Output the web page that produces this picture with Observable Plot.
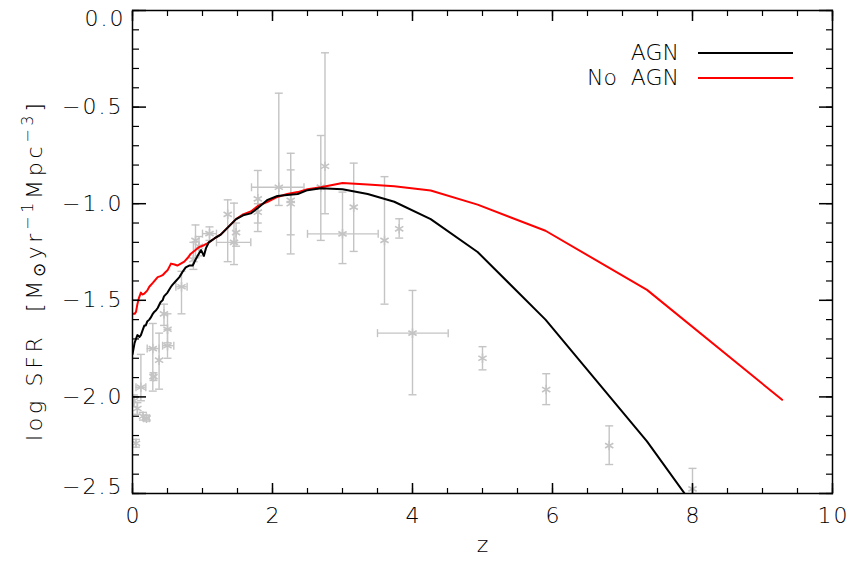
<!DOCTYPE html>
<html><head><meta charset="utf-8">
<script src="https://cdn.jsdelivr.net/npm/d3@7"></script>
<script src="https://cdn.jsdelivr.net/npm/@observablehq/plot@0.6"></script>
<style>
body{margin:0;background:#fff}
#chart{width:851px;height:569px}
</style>
</head><body><div id="chart"></div>
<script>
// ---- Model curves ----
const agnZ   = [0.0,0.03,0.05,0.07,0.10,0.12,0.14,0.17,0.19,0.21,0.24,0.26,0.29,0.31,0.34,0.36,0.40,0.43,0.45,0.50,0.55,0.57,0.62,0.67,0.72,0.76,0.81,0.86,0.90,0.93,0.98,1.02,1.05,1.09,1.17,1.26,1.37,1.48,1.58,1.69,1.80,1.93,2.07,2.21,2.36,2.50,2.69,3.00,3.36,3.74,4.26,4.93,5.90,7.35,9.28];
const agnSFR = [-1.78,-1.72,-1.70,-1.68,-1.69,-1.68,-1.66,-1.63,-1.63,-1.61,-1.60,-1.59,-1.57,-1.56,-1.55,-1.54,-1.51,-1.50,-1.48,-1.46,-1.43,-1.42,-1.40,-1.38,-1.35,-1.33,-1.32,-1.32,-1.29,-1.27,-1.24,-1.27,-1.23,-1.20,-1.18,-1.16,-1.12,-1.08,-1.06,-1.05,-1.02,-0.98,-0.96,-0.955,-0.95,-0.93,-0.92,-0.925,-0.95,-0.99,-1.08,-1.25,-1.60,-2.23,-3.20];
const noAgnZ   = [0.0,0.03,0.05,0.07,0.09,0.12,0.14,0.17,0.21,0.24,0.29,0.36,0.40,0.43,0.47,0.50,0.55,0.60,0.64,0.69,0.74,0.79,0.83,0.90,0.95,1.02,1.07,1.17,1.26,1.37,1.48,1.58,1.69,1.80,1.93,2.07,2.21,2.36,2.50,2.69,3.00,3.36,3.74,4.26,4.93,5.90,7.35,9.28];
const noAgnSFR = [-1.57,-1.57,-1.56,-1.52,-1.49,-1.46,-1.47,-1.465,-1.45,-1.43,-1.41,-1.38,-1.375,-1.37,-1.355,-1.345,-1.31,-1.315,-1.32,-1.31,-1.30,-1.28,-1.26,-1.24,-1.225,-1.215,-1.205,-1.18,-1.16,-1.12,-1.08,-1.055,-1.04,-1.01,-0.99,-0.965,-0.95,-0.94,-0.925,-0.915,-0.893,-0.90,-0.91,-0.932,-1.005,-1.14,-1.446,-2.015];

// ---- Observational compilation (grey asterisks) ----
const obsZ     = [0.05,0.02,0.07,0.15,0.20,0.12,0.30,0.29,0.38,0.45,0.50,0.50,0.70,0.87,0.90,0.95,1.10,1.36,1.45,1.48,1.79,1.79,2.09,2.26,2.26,2.69,2.75,3.00,3.16,3.60,3.81,4.00,5.00,5.91,6.81,8.00];
const obsSFR   = [-2.24,-2.02,-2.06,-2.10,-2.11,-1.95,-1.895,-1.75,-1.81,-1.57,-1.65,-1.735,-1.43,-1.29,-1.19,-1.22,-1.155,-1.055,-1.20,-1.15,-0.975,-1.044,-0.915,-0.983,-1.00,-0.914,-0.806,-1.156,-1.018,-1.19,-1.13,-1.67,-1.80,-1.962,-2.252,-2.476];
const obsSFRlo = [-2.26,-2.05,-2.09,-2.12,-2.125,-2.02,-1.915,-1.97,-1.96,-1.63,-1.72,-1.80,-1.57,-1.34,-1.28,-1.27,-1.19,-1.30,-1.315,-1.22,-1.144,-1.10,-1.009,-1.161,-1.26,-1.19,-1.052,-1.31,-1.247,-1.52,-1.178,-1.989,-1.86,-2.04,-2.35,-2.57];
const obsSFRhi = [-2.22,-1.99,-2.03,-2.08,-2.095,-1.78,-1.875,-1.62,-1.67,-1.52,-1.57,-1.65,-1.35,-1.20,-1.11,-1.17,-1.12,-0.98,-0.997,-1.10,-0.828,-1.00,-0.428,-0.825,-0.739,-0.647,-0.219,-0.94,-0.79,-0.86,-1.078,-1.449,-1.74,-1.88,-2.15,-2.37];
const obsZlo   = [0.05,0.02,0.07,0.15,0.16,0.05,0.27,0.21,0.38,0.45,0.50,0.43,0.62,0.87,0.90,0.95,1.00,1.36,1.20,1.48,1.79,1.79,1.70,2.26,2.26,2.69,2.75,2.50,3.16,3.60,3.81,3.50,5.00,5.91,6.81,8.00];
const obsZhi   = [0.05,0.02,0.07,0.15,0.24,0.19,0.33,0.38,0.38,0.45,0.50,0.59,0.78,0.87,0.90,0.95,1.20,1.36,1.69,1.48,1.79,1.79,2.45,2.26,2.26,2.69,2.75,3.51,3.16,3.60,3.81,4.51,5.00,5.91,6.81,8.00];

// ---- Axes / legend text ----
const xTicks = [0,2,4,6,8,10];
const yTicks = [0,-0.5,-1,-1.5,-2,-2.5];
const legendLabels = ["AGN","No  AGN"];
const legendColors = ["#000000","#ff0000"];
const xTitle = "z";

const agn = agnZ.map((z,i)=>({z, v: agnSFR[i]}));
const noAgn = noAgnZ.map((z,i)=>({z, v: noAgnSFR[i]}));
const obs = obsZ.map((z,i)=>({z, v: obsSFR[i], lo: obsSFRlo[i], hi: obsSFRhi[i], zlo: obsZlo[i], zhi: obsZhi[i]}));
const vbars = obs.filter(d=>d.lo!==d.hi);
const hbars = obs.filter(d=>d.zlo!==d.zhi);

const grey = "#c4c4c4";
const hcap = {draw(ctx,size){const r=Math.sqrt(size/Math.PI); ctx.moveTo(-r,0); ctx.lineTo(r,0);}};
const vcap = {draw(ctx,size){const r=Math.sqrt(size/Math.PI); ctx.moveTo(0,-r); ctx.lineTo(0,r);}};
const FONT = "DejaVu Sans";
const WEIGHT = 200;
const xMinor = d3.range(0, 10.001, 0.5);
const yMinor = d3.range(-25, 1, 1).map(d=>d/10);

const svgEl = Plot.plot({
  width: 851, height: 569,
  marginLeft: 132, marginRight: 19, marginTop: 10, marginBottom: 76,
  style: {fontFamily: FONT, fontWeight: WEIGHT, background: "white", color: "black"},
  x: {domain: [0,10], label: null},
  y: {domain: [-2.5,0], label: null},
  marks: [
    // error bars
    Plot.ruleX(vbars, {x: "z", y1: "lo", y2: "hi", stroke: grey, strokeWidth: 1.4, clip: true}),
    Plot.ruleY(hbars, {y: "v", x1: "zlo", x2: "zhi", stroke: grey, strokeWidth: 1.4, clip: true}),
    Plot.dot(vbars, {x: "z", y: "lo", symbol: hcap, r: 4, stroke: grey, strokeWidth: 1.4, fill: "none", clip: true}),
    Plot.dot(vbars, {x: "z", y: "hi", symbol: hcap, r: 4, stroke: grey, strokeWidth: 1.4, fill: "none", clip: true}),
    Plot.dot(hbars, {x: "zlo", y: "v", symbol: vcap, r: 4, stroke: grey, strokeWidth: 1.4, fill: "none", clip: true}),
    Plot.dot(hbars, {x: "zhi", y: "v", symbol: vcap, r: 4, stroke: grey, strokeWidth: 1.4, fill: "none", clip: true}),
    Plot.dot(obs, {x: "z", y: "v", symbol: "asterisk", r: 4.5, stroke: grey, strokeWidth: 1.6, clip: true}),
    // model curves
    Plot.line(noAgn, {x: "z", y: "v", stroke: legendColors[1], strokeWidth: 2, clip: true}),
    Plot.line(agn, {x: "z", y: "v", stroke: legendColors[0], strokeWidth: 2, clip: true}),
    // frame and inward ticks
    Plot.frame({stroke: "black", strokeWidth: 1.5}),
    Plot.axisX({anchor: "bottom", ticks: xTicks, tickSize: -10, fill: "none", label: null, strokeWidth: 1.5}),
    Plot.axisX({anchor: "bottom", ticks: xMinor, tickSize: -5, fill: "none", label: null, strokeWidth: 1.2}),
    Plot.axisX({anchor: "top", ticks: xTicks, tickSize: -10, fill: "none", label: null, strokeWidth: 1.5}),
    Plot.axisX({anchor: "top", ticks: xMinor, tickSize: -5, fill: "none", label: null, strokeWidth: 1.2}),
    Plot.axisY({anchor: "left", ticks: yTicks, tickSize: -14, fill: "none", label: null, strokeWidth: 1.5}),
    Plot.axisY({anchor: "left", ticks: yMinor, tickSize: -7, fill: "none", label: null, strokeWidth: 1.2}),
    Plot.axisY({anchor: "right", ticks: yTicks, tickSize: -14, fill: "none", label: null, strokeWidth: 1.5}),
    Plot.axisY({anchor: "right", ticks: yMinor, tickSize: -7, fill: "none", label: null, strokeWidth: 1.2}),
    // tick labels
    Plot.axisX({anchor: "bottom", ticks: xTicks, tickSize: 0, tickPadding: 14, fontSize: 22, dx: 1, label: null, fill: "black", tickFormat: d => String(d)}),
    Plot.axisY({anchor: "left", ticks: yTicks.slice(1,5), tickSize: 0, tickPadding: 9, fontSize: 22, label: null, fill: "black", tickFormat: d3.format(".1f")}),
    Plot.axisY({anchor: "left", ticks: [yTicks[0]], tickSize: 0, tickPadding: 7, fontSize: 22, label: null, fill: "black", dy: 8, tickFormat: d3.format(".1f")}),
    Plot.axisY({anchor: "left", ticks: [yTicks[5]], tickSize: 0, tickPadding: 9, fontSize: 22, label: null, fill: "black", dy: -7, tickFormat: d3.format(".1f")}),
    // x title
    Plot.text([xTitle], {frameAnchor: "bottom", text: d => d, dy: 58, fontSize: 22, fill: "black"})
  ]
});
document.getElementById("chart").appendChild(svgEl);

const svg = d3.select(svgEl);
svg.selectAll('g[aria-label$="tick label"] text').style("letter-spacing", "2px");

// y-axis title
const yt = svg.append("text")
  .attr("transform", "translate(42,441) rotate(-90)")
  .attr("text-anchor", "start")
  .style("font-family", FONT).style("font-weight", WEIGHT).style("font-size", "22px").style("letter-spacing", "3.7px")
  .style("white-space", "pre").attr("fill", "black");
yt.append("tspan").text("log SFR  [M");
yt.append("tspan").attr("baseline-shift", "-20%").style("font-size", "17px").text("\u2299");
yt.append("tspan").text("yr");
yt.append("tspan").attr("baseline-shift", "super").style("font-size", "16px").text("\u22121");
yt.append("tspan").text("Mpc");
yt.append("tspan").attr("baseline-shift", "super").style("font-size", "16px").text("\u22123");
yt.append("tspan").text("]");

// legend
const lg = svg.append("g");
legendLabels.forEach((lab, i) => {
  const yy = 53 + i * 25;
  lg.append("text").attr("x", 679).attr("y", yy + 7).attr("text-anchor", "end")
    .style("font-family", FONT).style("font-weight", WEIGHT).style("font-size", "22px").style("white-space", "pre").text(lab);
  lg.append("line").attr("x1", 698).attr("x2", 793).attr("y1", yy).attr("y2", yy)
    .attr("stroke", legendColors[i]).attr("stroke-width", 2);
});
</script>
</body></html>
